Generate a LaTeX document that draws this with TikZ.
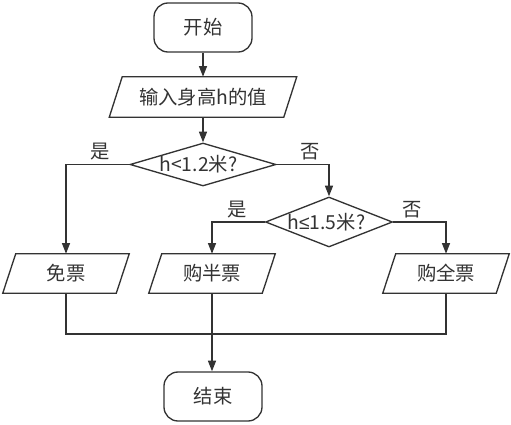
\documentclass[tikz,border=0pt]{standalone}
\usepackage{fontspec}
\setmainfont{Noto Sans CJK SC}
\newfontfamily\symf{Liberation Sans}
\usetikzlibrary{shapes.geometric,arrows.meta}
\definecolor{ln}{HTML}{333333}
\begin{document}
\begin{tikzpicture}[x=0.75pt,y=-0.75pt,
  every node/.style={font=\fontsize{14.5}{16}\selectfont, text=ln},
  term/.style={draw=ln, line width=1pt, rounded corners=10.5pt, minimum width=73.5pt, minimum height=36.75pt, inner sep=0pt},
  io/.style={inner sep=0pt, minimum height=29.25pt, minimum width=84.75pt,
    append after command={\pgfextra{\draw[ln, line width=1pt, line join=miter]
      ([xshift=4.875pt]\tikzlastnode.north west) -- ([xshift=4.875pt]\tikzlastnode.north east)
      -- ([xshift=-4.875pt]\tikzlastnode.south east) -- ([xshift=-4.875pt]\tikzlastnode.south west) -- cycle;}}},
  dec/.style={draw=ln, line width=1pt, diamond, inner sep=0pt},
  flow/.style={draw=ln, line width=1pt, -{Triangle[length=8pt,width=6pt]}},
  plain/.style={draw=ln, line width=1pt},
  yn/.style={inner sep=0pt}
]
\useasboundingbox (0,0) rectangle (511,425);
\node[term] (start) at (203,27.5) {开始};
\node[io, minimum width=130.5pt, minimum height=30pt] (in) at (203,97) {输入身高h的值};
\node[dec, minimum width=109.5pt, minimum height=32.25pt, label={[xshift=-3.5pt]center:h<1.2米?}] (d1) at (203,164.5) {};
\node[dec, minimum width=95.25pt, minimum height=37.5pt, label={[xshift=-2pt]center:h{\symf ≤}1.5米?}] (d2) at (329,222) {};
\node[io] (b1) at (66,273.5) {免票};
\node[io] (b2) at (212,273.5) {购半票};
\node[io] (b3) at (446,273.5) {购全票};
\node[term] (end) at (213,396.5) {结束};
\coordinate (j) at (212,334);
\node[yn] (y1) at (100,152) {是};
\node[yn] (n1) at (310,152) {否};
\node[yn] (y2) at (237,210) {是};
\node[yn] (n2) at (412,210) {否};
\draw[flow] (start) -- (in);
\draw[flow] (in) -- (d1);
\draw[flow] (d1.west) -| (b1.north);
\draw[flow] (d1.east) -| (d2.north);
\draw[flow] (d2.west) -| (b2.north);
\draw[flow] (d2.east) -| (b3.north);
\draw[plain] (b1.south) |- (j) -| (b3.south);
\draw[flow] (b2.south) -- (b2.south |- end.north);
\end{tikzpicture}
\end{document}
